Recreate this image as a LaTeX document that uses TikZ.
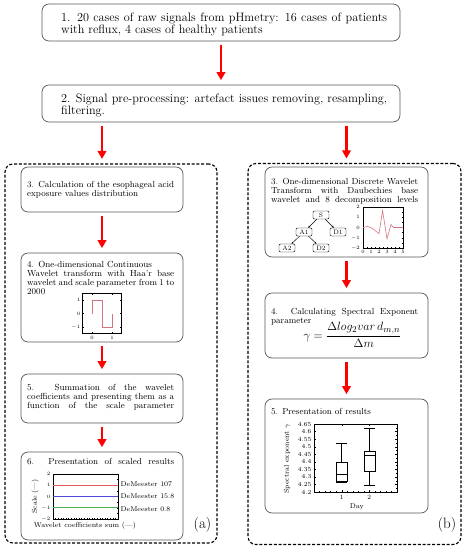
\documentclass[tikz,border=0pt]{standalone}
\usetikzlibrary{arrows.meta}
\definecolor{boxgray}{gray}{0.35}
\definecolor{haarred}{rgb}{0.85,0.45,0.5}
\definecolor{linered}{rgb}{0.9,0.35,0.35}
\definecolor{lineblue}{rgb}{0.3,0.3,0.85}
\definecolor{linegreen}{rgb}{0.3,0.7,0.35}
\newcommand\topfont{\fontsize{12.2}{12.6}\selectfont}
\newcommand\infont{\fontsize{8.8}{8.8}\selectfont}
\newcommand\labfont{\fontsize{7}{7}\selectfont}
\newcommand\tickfont{\fontsize{4.6}{5}\selectfont}
\newcommand\fl[1]{\makebox[147pt][s]{#1}\\}
\begin{document}
\begin{tikzpicture}[x=1pt,y=-1pt,
 box/.style={draw=boxgray, line width=0.7pt, rounded corners=7pt, inner sep=0, fill=white},
 frame/.style={draw=black, dash pattern=on 3pt off 1.8pt, line width=1.1pt, rounded corners=8pt, inner sep=0},
 redarrow/.style={draw=red, line width=2.6pt, -{Triangle[length=8pt,width=8.5pt]}, shorten <=3.5pt, shorten >=4.5pt},
 toptxt/.style={anchor=north west, inner sep=0, text width=326pt, align=justify, font=\topfont},
 intxt/.style={anchor=north west, inner sep=0, text width=147pt, align=justify, font=\infont},
 tick/.style={line width=0.3pt},
 axis/.style={draw=black, line width=0.45pt},
 ticklab/.style={font=\tickfont, inner sep=0.5pt},
 lab/.style={font=\labfont, inner sep=0.5pt},
 tbox/.style={draw=black, line width=0.45pt, rounded corners=1.2pt, minimum width=16pt, minimum height=8pt, inner sep=0, font=\fontsize{6.5}{6.5}\selectfont},
 tedge/.style={line width=0.45pt, -{Stealth[length=2.2pt,width=2pt]}},
]
\useasboundingbox (0,0) rectangle (464,550);

% frames
\node[frame, minimum width=212pt, minimum height=379pt] (fa) at (111,353.5) {};
\node[frame, minimum width=213pt, minimum height=381pt] (fb) at (354.5,354) {};

% top boxes
\node[box, minimum width=358pt, minimum height=37pt] (b1) at (221,22.5) {};
\node[box, minimum width=358pt, minimum height=37pt] (b2) at (221,103.5) {};
\node[toptxt] (t1) at (61,12.5) {1. 20 cases of raw signals from pHmetry: 16 cases of patients\linebreak with reflux, 4 cases of healthy patients};
\node[toptxt] (t2) at (61,93.5) {2. Signal pre-processing: artefact issues removing, resampling,\linebreak filtering.};

% left column boxes
\node[box, minimum width=162pt, minimum height=45pt] (l3) at (102,189.5) {};
\node[box, minimum width=162pt, minimum height=89pt] (l4) at (102,297.5) {};
\node[box, minimum width=162pt, minimum height=49pt] (l5) at (102,398.5) {};
\node[box, minimum width=162pt, minimum height=88pt] (l6) at (102,496) {};

% right column boxes
\node[box, minimum width=163pt, minimum height=90pt] (r3) at (346.5,212) {};
\node[box, minimum width=163pt, minimum height=65pt] (r4) at (346.5,325.5) {};
\node[box, minimum width=163pt, minimum height=114pt] (r5) at (346.5,456) {};

% arrows
\draw[redarrow] (b1.south) -- (b2.north);
\draw[redarrow] (b2.south -| l3.north) -- (fa.north -| l3.north);
\draw[redarrow] (b2.south -| r3.north) -- (fb.north -| r3.north);
\draw[redarrow] (l3.south) -- (l4.north);
\draw[redarrow] (l4.south) -- (l5.north);
\draw[redarrow] (l5.south) -- (l6.north);
\draw[redarrow] (r3.south) -- (r4.north);
\draw[redarrow] (r4.south) -- (r5.north);

% left texts
\node[intxt] (tl3) at (27,181.5) {\fl{3. Calculation of the esophageal acid}exposure values distribution};
\node[intxt] (tl4) at (27,261.5) {4. One-dimensional Continuous\\ \fl{Wavelet transform with Haa'r base}\fl{wavelet and scale parameter from 1 to}2000};
\node[intxt] (tl5) at (27,384.5) {\fl{5. Summation of the wavelet}\fl{coefficients and presenting them as a}\makebox[147pt][s]{function of the scale parameter}};
\node[intxt] (tl6) at (27,458) {\makebox[147pt][s]{6. Presentation of scaled results}};

% right texts
\node[intxt] (tr3) at (271,178.5) {\fl{3. One-dimensional Discrete Wavelet}\fl{Transform with Daubechies base}\makebox[147pt][s]{wavelet and 8 decomposition levels}};
\node[intxt] (tr4) at (271,308) {\fl{4. Calculating Spectral Exponent}parameter};
\node[inner sep=0, font=\fontsize{12.5}{13}\selectfont] (frm) at (352.5,335) {$\displaystyle\gamma=\frac{\Delta log_2 var\, d_{m,n}}{\Delta m}$};
\node[intxt] (tr5) at (271,408.5) {5. Presentation of results};

% labels (a) (b)
\node[inner sep=0, font=\fontsize{15}{15}\selectfont] (la) at (202.5,525) {(a)};
\node[inner sep=0, font=\fontsize{15}{15}\selectfont] (lb) at (447,525) {(b)};

% Haar plot
\begin{scope}[shift={(92,313.5)}, x=20pt, y=13.5pt]
 \draw[axis] (-0.5,-1.45) rectangle (1.45,1.5);
 \foreach \v in {-1,0,1} {\draw[tick] (-0.5,\v) -- ++(1.5pt,0); \draw[tick] (1.45,\v) -- ++(-1.5pt,0);
   \node[ticklab, anchor=east] at (-0.55,\v) {$\v$};}
 \foreach \u in {0,1} {\draw[tick] (\u,-1.45) -- ++(0,1.5pt); \draw[tick] (\u,1.5) -- ++(0,-1.5pt);
   \node[ticklab, anchor=north] at (\u,-1.6) {$\u$};}
 \draw[haarred, line width=0.6pt] (0,0) -- (0,1) -- (0.5,1) -- (0.5,-1) -- (1,-1) -- (1,0);
\end{scope}

% scaled results plot
\begin{scope}[shift={(53,496.5)}, x=1pt, y=11.25pt]
 \draw[axis] (0,-2) rectangle (65,2);
 \foreach \i in {1,...,24} {\draw[tick] (\i*2.6,-2) -- ++(0,1.2pt); \draw[tick] (\i*2.6,2) -- ++(0,-1.2pt);}
 \foreach \v in {-2,-1,0,1,2} {\node[ticklab, anchor=east] at (-2,\v) {$\v$};}
 \foreach \v in {-1.5,-1,-0.5,0,0.5,1,1.5} {\draw[tick] (0,\v) -- ++(1.3pt,0); \draw[tick] (65,\v) -- ++(-1.3pt,0);}
 \draw[linered, line width=0.6pt] (0,1) -- (65,1);
 \draw[lineblue, line width=0.6pt] (0,0) -- (65,0);
 \draw[linegreen, line width=0.6pt] (0,-1) -- (65,-1);
 \node[lab, anchor=west] (dm1) at (67,1.1) {DeMeester 107};
 \node[lab, anchor=west] (dm2) at (67,0) {DeMeester 15.8};
 \node[lab, anchor=west] (dm3) at (67,-1.1) {DeMeester 0.8};
 \node[lab, rotate=90] (sc) at (-18,0) {Scale (---)};
 \node[lab] (wc) at (32,-2.6) {Wavelet coefficients sum (---)};
\end{scope}

% tree
\node[tbox] (S) at (321,215) {S};
\node[tbox] (A1) at (304,232) {A1};
\node[tbox] (D1) at (338,232) {D1};
\node[tbox] (A2) at (287,248) {A2};
\node[tbox] (D2) at (321,248) {D2};
\draw[tedge] (S) -- (A1);
\draw[tedge] (S) -- (D1);
\draw[tedge] (A1) -- (A2);
\draw[tedge] (A1) -- (D2);

% db wavelet plot
\begin{scope}[shift={(363,227.5)}, x=8pt, y=10.25pt]
 \draw[axis] (0,-2) rectangle (5,2);
 \foreach \v in {-2,-1,0,1,2} {\node[ticklab, anchor=east] at (-0.3,\v) {$\v$};}
 \foreach \v in {-1.5,-1,-0.5,0,0.5,1,1.5} {\draw[tick] (0,\v) -- ++(1.2pt,0); \draw[tick] (5,\v) -- ++(-1.2pt,0);}
 \foreach \u in {0,...,5} {\node[ticklab, anchor=north] at (\u,-2.15) {$\u$};}
 \foreach \u in {0.5,1,...,4.5} {\draw[tick] (\u,-2) -- ++(0,1.2pt); \draw[tick] (\u,2) -- ++(0,-1.2pt);}
 \draw[haarred, line width=0.6pt] (0,0) -- (0.6,0.1) -- (1.2,-0.1) -- (2.0,-0.6) -- (2.45,1.65) -- (3.0,-1.1) -- (3.5,0.3) -- (3.8,0) -- (5,0);
\end{scope}

% box plot
\begin{scope}[shift={(314,492)}, x=27.67pt, y=151.1pt]
 \draw[axis] (0,0) rectangle (3,0.45);
 \foreach \k/\t in {0/4.2,1/4.25,2/4.3,3/4.35,4/4.4,5/4.45,6/4.5,7/4.55,8/4.6,9/4.65} {
   \node[font=\fontsize{6.2}{6}\selectfont, inner sep=0.5pt, anchor=east] at (-0.07,\k*0.05) {\t};
   \draw[tick] (0,\k*0.05) -- ++(2pt,0); \draw[tick] (3,\k*0.05) -- ++(-2pt,0);}
 \foreach \k in {0,...,8} {\draw[tick] (0,\k*0.05+0.025) -- ++(1.2pt,0); \draw[tick] (3,\k*0.05+0.025) -- ++(-1.2pt,0);}
 \foreach \u in {1,2} {\draw[tick] (\u,0) -- ++(0,2pt); \draw[tick] (\u,0.45) -- ++(0,-2pt);
   \node[font=\fontsize{6.5}{6}\selectfont, inner sep=0.5pt, anchor=north] at (\u,-0.015) {\u};}
 \foreach \u in {0.2,0.4,...,2.81} {\draw[tick] (\u,0) -- ++(0,1.2pt); \draw[tick] (\u,0.45) -- ++(0,-1.2pt);}
 % box 1
 \draw[line width=0.5pt] (1,0.062) -- (1,0.068);
 \draw[line width=0.5pt] (0.8,0.062) -- (1.2,0.062);
 \draw[line width=0.5pt] (0.8,0.068) rectangle (1.2,0.197);
 \draw[line width=0.5pt] (0.8,0.117) -- (1.2,0.117);
 \draw[line width=0.5pt] (1,0.197) -- (1,0.322);
 \draw[line width=0.5pt] (0.8,0.322) -- (1.2,0.322);
 % box 2
 \draw[line width=0.5pt] (2,0.042) -- (2,0.139);
 \draw[line width=0.5pt] (1.8,0.042) -- (2.2,0.042);
 \draw[line width=0.5pt] (1.8,0.139) rectangle (2.2,0.267);
 \draw[line width=0.5pt] (1.8,0.245) -- (2.2,0.245);
 \draw[line width=0.5pt] (2,0.267) -- (2,0.42);
 \draw[line width=0.5pt] (1.8,0.42) -- (2.2,0.42);
 \node[lab] (day) at (1.55,-0.1) {Day};
 \node[lab, rotate=90] (se) at (-0.97,0.22) {Spectral exponent $\gamma$};
\end{scope}
\end{tikzpicture}
\end{document}
